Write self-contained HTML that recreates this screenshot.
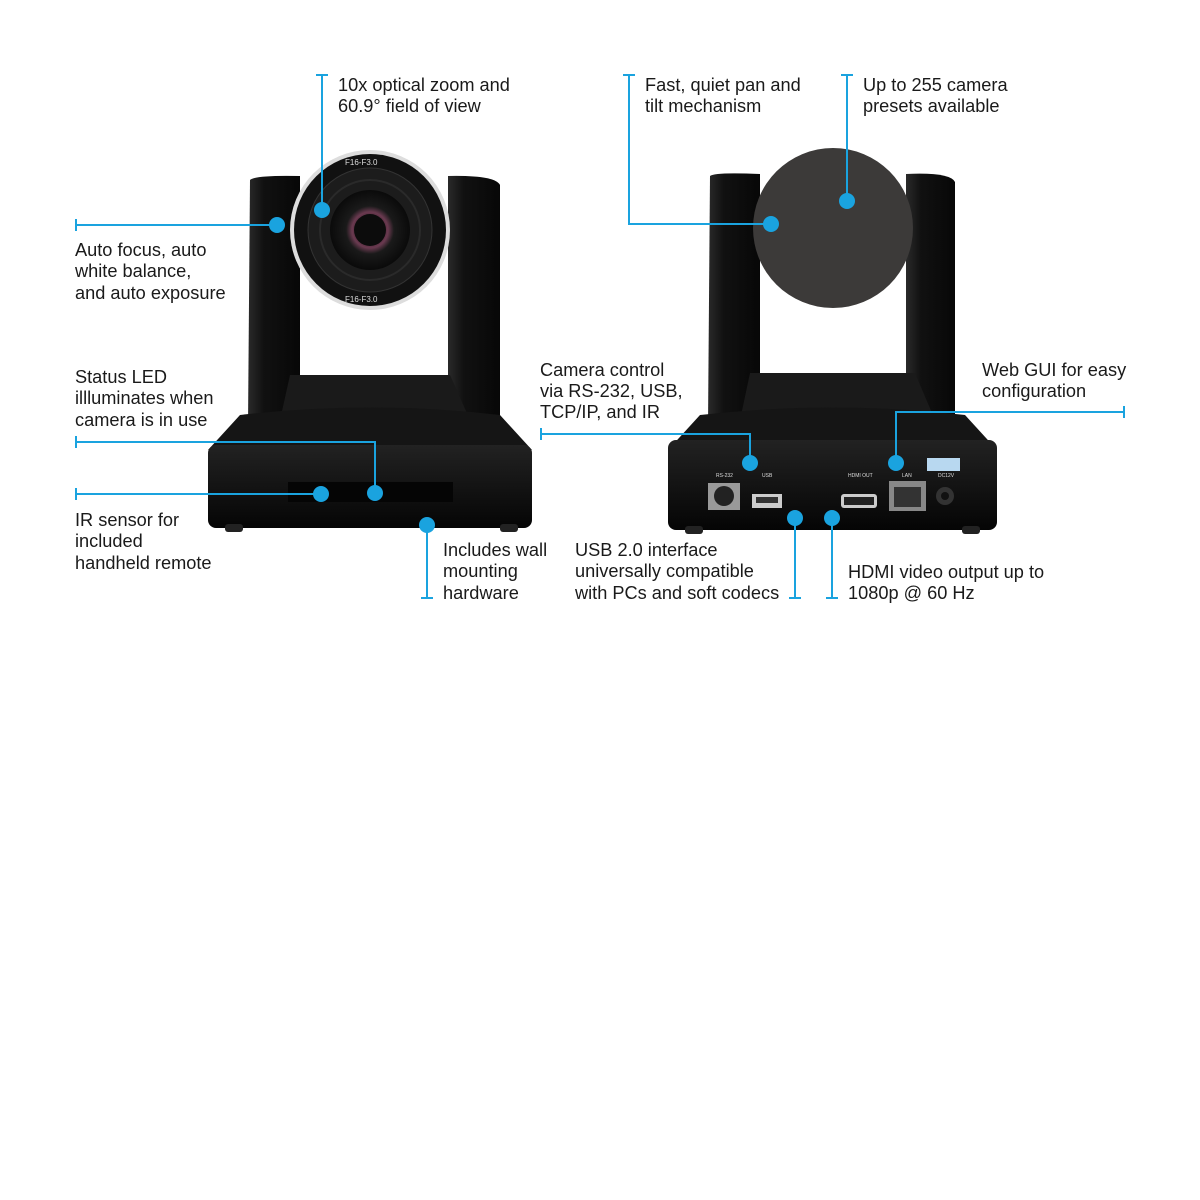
<!DOCTYPE html>
<html><head><meta charset="utf-8"><style>
html,body{margin:0;padding:0;background:#fff;}
svg{display:block}
text{font-family:"Liberation Sans",sans-serif;font-size:18.2px;fill:#1a1a1a}
</style></head><body>
<svg width="1200" height="1200" viewBox="0 0 1200 1200" xmlns="http://www.w3.org/2000/svg">
<defs>
<linearGradient id="arm" x1="0" x2="1"><stop offset="0" stop-color="#2a2a2a"/><stop offset="0.3" stop-color="#111"/><stop offset="1" stop-color="#070707"/></linearGradient>
<radialGradient id="lens" cx="0.5" cy="0.5" r="0.5"><stop offset="0" stop-color="#111"/><stop offset="0.25" stop-color="#3a1a28"/><stop offset="0.45" stop-color="#6a3a50"/><stop offset="0.6" stop-color="#1a1a1a"/><stop offset="1" stop-color="#0a0a0a"/></radialGradient>
<linearGradient id="base" x1="0" y1="0" x2="0" y2="1"><stop offset="0" stop-color="#222"/><stop offset="1" stop-color="#050505"/></linearGradient>
</defs>

<!-- LEFT CAMERA -->
<g>
<path d="M288 400 Q370 360 455 400 L500 430 L240 430 Z" fill="#111"/>
<path d="M250 180 Q255 175 300 176 L300 425 L248 425 Z" fill="url(#arm)"/>
<path d="M448 176 Q495 175 500 185 L500 425 L448 425 Z" fill="url(#arm)"/>
<rect x="300" y="300" width="148" height="80" fill="#fff"/>
<path d="M290 375 L450 375 L470 420 L280 420 Z" fill="#1a1a1a"/>
<path d="M240 415 Q370 400 500 415 L532 450 L208 450 Z" fill="#151515"/>
<rect x="208" y="445" width="324" height="83" rx="8" fill="url(#base)"/>
<rect x="288" y="482" width="165" height="20" fill="#050505"/>
<rect x="225" y="524" width="18" height="8" rx="3" fill="#222"/>
<rect x="500" y="524" width="18" height="8" rx="3" fill="#222"/>
<circle cx="370" cy="230" r="80" fill="#ddd"/>
<circle cx="370" cy="230" r="76" fill="#111"/>
<circle cx="370" cy="230" r="62" fill="#1c1c1c" stroke="#333" stroke-width="1"/>
<circle cx="370" cy="230" r="50" fill="none" stroke="#2a2a2a" stroke-width="2"/>
<circle cx="370" cy="230" r="40" fill="url(#lens)"/>
<circle cx="370" cy="230" r="16" fill="#0c0c0c"/>
<text x="345" y="165" style="font-size:8px;fill:#ddd">F16-F3.0</text>
<text x="345" y="302" style="font-size:8px;fill:#ddd">F16-F3.0</text>
</g>

<!-- RIGHT CAMERA -->
<g>
<path d="M748 400 Q833 360 915 400 L960 430 L700 430 Z" fill="#111"/>
<path d="M710 176 Q715 172 760 174 L760 425 L708 425 Z" fill="url(#arm)"/>
<path d="M906 174 Q950 172 955 182 L955 425 L906 425 Z" fill="url(#arm)"/>
<rect x="760" y="300" width="146" height="78" fill="#fff"/>
<path d="M750 373 L915 373 L935 420 L740 420 Z" fill="#1a1a1a"/>
<path d="M700 415 Q833 400 965 415 L997 450 L668 450 Z" fill="#151515"/>
<rect x="668" y="440" width="329" height="90" rx="8" fill="url(#base)"/>
<circle cx="833" cy="228" r="80" fill="#3c3a39"/>
<rect x="708" y="483" width="32" height="27" fill="#999"/>
<circle cx="724" cy="496" r="10" fill="#222"/>
<rect x="752" y="494" width="30" height="14" fill="#ccc"/>
<rect x="756" y="497" width="22" height="6" fill="#333"/>
<rect x="841" y="494" width="36" height="14" rx="3" fill="#ccc"/>
<rect x="844" y="497" width="30" height="8" fill="#222"/>
<rect x="889" y="481" width="37" height="30" fill="#888"/>
<rect x="894" y="487" width="27" height="20" fill="#333"/>
<circle cx="945" cy="496" r="9" fill="#333"/><circle cx="945" cy="496" r="4" fill="#111"/>
<rect x="927" y="458" width="33" height="13" fill="#b8d8f0"/>
<text x="716" y="477" style="font-size:5px;fill:#ddd">RS-232</text>
<text x="762" y="477" style="font-size:5px;fill:#ddd">USB</text>
<text x="848" y="477" style="font-size:5px;fill:#ddd">HDMI OUT</text>
<text x="902" y="477" style="font-size:5px;fill:#ddd">LAN</text>
<text x="938" y="477" style="font-size:5px;fill:#ddd">DC12V</text>
<rect x="685" y="526" width="18" height="8" rx="3" fill="#222"/>
<rect x="962" y="526" width="18" height="8" rx="3" fill="#222"/>
</g>

<!-- CONNECTORS -->
<g stroke="#1aa3df" stroke-width="2" fill="none">
<path d="M322 75 V210 M316 75 H328"/>
<path d="M76 225 H277 M76 219 V231"/>
<path d="M76 442 H375 V493 M76 436 V448"/>
<path d="M76 494 H321 M76 488 V500"/>
<path d="M427 525 V598 M421 598 H433"/>
<path d="M629 75 V224 H771 M623 75 H635"/>
<path d="M847 75 V201 M841 75 H853"/>
<path d="M541 434 H750 V463 M541 428 V440"/>
<path d="M1124 412 H896 V463 M1124 406 V418"/>
<path d="M795 518 V598 M789 598 H801"/>
<path d="M832 518 V598 M826 598 H838"/>
</g>
<g fill="#1aa3df">
<circle cx="322" cy="210" r="8"/><circle cx="277" cy="225" r="8"/>
<circle cx="375" cy="493" r="8"/><circle cx="321" cy="494" r="8"/>
<circle cx="427" cy="525" r="8"/><circle cx="771" cy="224" r="8"/>
<circle cx="847" cy="201" r="8"/><circle cx="750" cy="463" r="8"/>
<circle cx="896" cy="463" r="8"/><circle cx="795" cy="518" r="8"/>
<circle cx="832" cy="518" r="8"/>
</g>

<!-- LABELS -->
<text x="338" y="91">10x optical zoom and</text>
<text x="338" y="112">60.9° field of view</text>
<text x="75" y="256">Auto focus, auto</text>
<text x="75" y="277">white balance,</text>
<text x="75" y="299">and auto exposure</text>
<text x="75" y="383">Status LED</text>
<text x="75" y="404">illluminates when</text>
<text x="75" y="426">camera is in use</text>
<text x="75" y="526">IR sensor for</text>
<text x="75" y="547">included</text>
<text x="75" y="569">handheld remote</text>
<text x="443" y="556">Includes wall</text>
<text x="443" y="577">mounting</text>
<text x="443" y="599">hardware</text>
<text x="645" y="91">Fast, quiet pan and</text>
<text x="645" y="112">tilt mechanism</text>
<text x="863" y="91">Up to 255 camera</text>
<text x="863" y="112">presets available</text>
<text x="540" y="376">Camera control</text>
<text x="540" y="397">via RS-232, USB,</text>
<text x="540" y="418">TCP/IP, and IR</text>
<text x="982" y="376">Web GUI for easy</text>
<text x="982" y="397">configuration</text>
<text x="575" y="556">USB 2.0 interface</text>
<text x="575" y="577">universally compatible</text>
<text x="575" y="599">with PCs and soft codecs</text>
<text x="848" y="578">HDMI video output up to</text>
<text x="848" y="599">1080p @ 60 Hz</text>
</svg>
</body></html>
